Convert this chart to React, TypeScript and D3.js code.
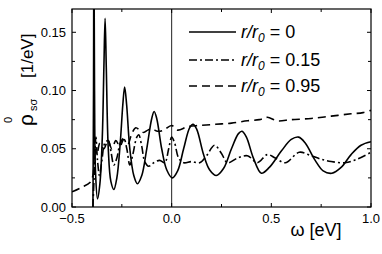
import { useEffect, useRef } from "react";
import * as d3 from "d3";

// omega [eV] and rho values
const omegaR0 = [
  -0.395, -0.392, -0.39, -0.387, -0.382, -0.372, -0.36, -0.348, -0.34, -0.334, -0.328, -0.318,
  -0.305, -0.29, -0.275, -0.258, -0.245, -0.236, -0.226, -0.21, -0.19, -0.172, -0.15, -0.125,
  -0.1, -0.088, -0.075, -0.05, -0.025, 0.003, 0.03, 0.06, 0.09, 0.107, 0.125, 0.16, 0.19,
  0.224, 0.26, 0.3, 0.335, 0.353, 0.375, 0.41, 0.45, 0.49, 0.55, 0.6, 0.637, 0.67, 0.72,
  0.76, 0.804, 0.85, 0.9, 0.95, 1.0,
];
const rhoR0 = [
  0.0, 0.1, 0.25, 0.1, 0.03, 0.007, 0.02, 0.06, 0.12, 0.162, 0.12, 0.05,
  0.022, 0.015, 0.025, 0.055, 0.088, 0.103, 0.088, 0.05, 0.027, 0.02, 0.027, 0.05,
  0.076, 0.082, 0.076, 0.05, 0.032, 0.025, 0.031, 0.05, 0.068, 0.071, 0.067, 0.045, 0.032,
  0.027, 0.033, 0.05, 0.063, 0.065, 0.06, 0.042, 0.029, 0.034, 0.048, 0.058, 0.06, 0.055, 0.04,
  0.031, 0.029, 0.034, 0.045, 0.053, 0.056,
];

const omegaR15 = [
  -0.395, -0.388, -0.38, -0.372, -0.362, -0.35, -0.335, -0.318, -0.305, -0.29, -0.275, -0.258,
  -0.24, -0.225, -0.21, -0.195, -0.175, -0.165, -0.15, -0.135, -0.115, -0.09, -0.06, -0.035,
  -0.015, 0.0, 0.015, 0.035, 0.06, 0.1, 0.14, 0.175, 0.215, 0.25, 0.28, 0.33, 0.38, 0.43,
  0.48, 0.52, 0.57, 0.64, 0.7, 0.75, 0.8, 0.87, 0.93, 1.0,
];
const rhoR15 = [
  0.0, 0.03, 0.06, 0.04, 0.027, 0.04, 0.055, 0.057, 0.048, 0.036, 0.042, 0.055,
  0.059, 0.05, 0.036, 0.045, 0.06, 0.062, 0.052, 0.039, 0.035, 0.038, 0.04, 0.038,
  0.05, 0.06, 0.055, 0.042, 0.038, 0.039, 0.038, 0.044, 0.053, 0.046, 0.038, 0.042, 0.044, 0.038,
  0.045, 0.042, 0.038, 0.047, 0.044, 0.041, 0.039, 0.038, 0.041, 0.047,
];

const omegaR95 = [
  -0.5, -0.45, -0.41, -0.395, -0.385, -0.375, -0.36, -0.34, -0.32, -0.3, -0.28, -0.26, -0.24,
  -0.22, -0.2, -0.18, -0.16, -0.14, -0.12, -0.1, -0.07, -0.04, 0.0, 0.03, 0.08, 0.14, 0.22,
  0.3, 0.38, 0.44, 0.48, 0.53, 0.6, 0.7, 0.8, 0.9, 0.96, 1.0,
];
const rhoR95 = [
  0.013, 0.017, 0.021, 0.027, 0.05, 0.045, 0.055, 0.05, 0.057, 0.05, 0.057, 0.052, 0.058,
  0.054, 0.063, 0.068, 0.066, 0.064, 0.066, 0.067, 0.065, 0.066, 0.07, 0.066, 0.069, 0.07, 0.071,
  0.072, 0.074, 0.075, 0.077, 0.074, 0.075, 0.076, 0.078, 0.08, 0.081, 0.083,
];

const legendLabels = ["0", "0.15", "0.95"];
const xTicks = [-0.5, 0, 0.5, 1.0];
const yTicks = [0, 0.05, 0.1, 0.15];

const W = 382;
const H = 254;
const FONT = "'Liberation Sans', Arial, sans-serif";

const App = () => {
  const ref = useRef<SVGSVGElement | null>(null);

  useEffect(() => {
    const svg = d3.select(ref.current);
    svg.selectAll("*").remove();

    const m = { left: 72, right: 371, top: 9, bottom: 207 };
    const x = d3.scaleLinear().domain([-0.5, 1.0]).range([m.left, m.right]);
    const y = d3.scaleLinear().domain([0, 0.17]).range([m.bottom, m.top]);

    svg
      .append("defs")
      .append("clipPath")
      .attr("id", "plot-clip")
      .append("rect")
      .attr("x", m.left)
      .attr("y", m.top)
      .attr("width", m.right - m.left)
      .attr("height", m.bottom - m.top);

    // zero line
    svg
      .append("line")
      .attr("x1", x(0))
      .attr("x2", x(0))
      .attr("y1", m.top)
      .attr("y2", m.bottom)
      .attr("stroke", "#222")
      .attr("stroke-width", 1);

    const series = [
      { om: omegaR0, rho: rhoR0, dash: null as string | null },
      { om: omegaR15, rho: rhoR15, dash: "8,3,2,3" },
      { om: omegaR95, rho: rhoR95, dash: "8,5" },
    ];

    const line = d3
      .line<[number, number]>()
      .x((d) => x(d[0]))
      .y((d) => y(d[1]))
      .curve(d3.curveCatmullRom.alpha(0.5));

    const curves = svg.append("g").attr("clip-path", "url(#plot-clip)");
    series.forEach((s) => {
      const pts = s.om.map((o, i) => [o, s.rho[i]] as [number, number]);
      curves
        .append("path")
        .attr("d", line(pts) as string)
        .attr("fill", "none")
        .attr("stroke", "#000")
        .attr("stroke-width", 1.6)
        .attr("stroke-dasharray", s.dash);
    });

    // frame
    svg
      .append("rect")
      .attr("x", m.left)
      .attr("y", m.top)
      .attr("width", m.right - m.left)
      .attr("height", m.bottom - m.top)
      .attr("fill", "none")
      .attr("stroke", "#000")
      .attr("stroke-width", 1.2);

    // ticks, inward on all four sides
    const ticks = svg.append("g").attr("stroke", "#000").attr("stroke-width", 1);
    d3.range(-0.5, 1.001, 0.25).forEach((t) => {
      const major = Math.abs(t * 2 - Math.round(t * 2)) < 1e-6;
      const len = major ? 4 : 3;
      ticks.append("line").attr("x1", x(t)).attr("x2", x(t)).attr("y1", m.bottom).attr("y2", m.bottom - len);
      ticks.append("line").attr("x1", x(t)).attr("x2", x(t)).attr("y1", m.top).attr("y2", m.top + len);
    });
    d3.range(0, 0.1701, 0.025).forEach((t) => {
      const major = Math.abs(t / 0.05 - Math.round(t / 0.05)) < 1e-6;
      const len = major ? 4 : 3;
      ticks.append("line").attr("x1", m.left).attr("x2", m.left + len).attr("y1", y(t)).attr("y2", y(t));
      ticks.append("line").attr("x1", m.right).attr("x2", m.right - len).attr("y1", y(t)).attr("y2", y(t));
    });

    svg
      .append("g")
      .selectAll("text")
      .data(xTicks)
      .enter()
      .append("text")
      .attr("x", (d) => x(d))
      .attr("y", 223)
      .attr("text-anchor", "middle")
      .attr("font-family", FONT)
      .attr("font-size", "13px")
      .text((d) => d3.format(".1f")(d));

    svg
      .append("g")
      .selectAll("text")
      .data(yTicks)
      .enter()
      .append("text")
      .attr("x", 66)
      .attr("y", (d) => y(d))
      .attr("dy", "0.35em")
      .attr("text-anchor", "end")
      .attr("font-family", FONT)
      .attr("font-size", "13px")
      .text((d) => d3.format(".2f")(d));

    // axis titles
    svg
      .append("text")
      .attr("x", 316)
      .attr("y", 236)
      .attr("text-anchor", "middle")
      .attr("font-family", FONT)
      .attr("font-size", "18px")
      .text("ω [eV]");

    const yl = svg
      .append("g")
      .attr("transform", "translate(33,126) rotate(-90)")
      .attr("font-family", FONT);
    yl.append("text").attr("x", 0).attr("y", 0).attr("font-size", "21px").text("ρ");
    yl.append("text").attr("x", 3).attr("y", -21).attr("font-size", "11px").text("0");
    yl.append("text").attr("x", 15).attr("y", 4).attr("font-size", "11px").text("sσ");
    yl.append("text").attr("x", 48).attr("y", 0).attr("font-size", "17px").text("[1/eV]");

    // legend
    const rows = [32, 60, 86];
    const leg = svg.append("g").attr("font-family", FONT);
    series.forEach((s, i) => {
      leg
        .append("line")
        .attr("x1", 189)
        .attr("x2", 236)
        .attr("y1", rows[i])
        .attr("y2", rows[i])
        .attr("stroke", "#000")
        .attr("stroke-width", 1.6)
        .attr("stroke-dasharray", s.dash);
      const t = leg
        .append("text")
        .attr("x", 241)
        .attr("y", rows[i] + 6)
        .attr("font-size", "18px");
      t.append("tspan").attr("font-style", "italic").text("r/r");
      t.append("tspan").attr("font-style", "italic").attr("font-size", "12px").attr("dy", 4).text("0");
      t.append("tspan").attr("dy", -4).text(` = ${legendLabels[i]}`);
    });
  }, []);

  return (
    <svg
      ref={ref}
      width={W}
      height={H}
      style={{ position: "absolute", left: 0, top: 0, background: "#fff" }}
    />
  );
};

export default App;
